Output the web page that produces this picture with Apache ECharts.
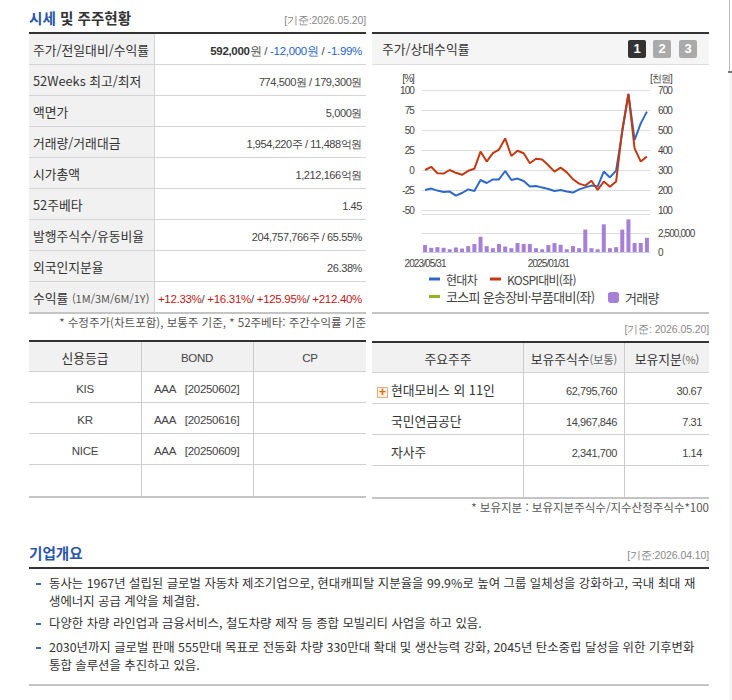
<!DOCTYPE html>
<html lang="ko"><head><meta charset="utf-8">
<script src="https://cdn.jsdelivr.net/npm/echarts@6/dist/echarts.min.js"></script>
<style>
html,body{margin:0;padding:0;background:#fff;width:732px;height:700px;overflow:hidden}
body{position:relative;font-family:"Noto Sans CJK KR","Noto Sans",sans-serif;color:#333}
.a{position:absolute;white-space:nowrap;line-height:1}
.num{font-family:"Liberation Sans",sans-serif;font-size:11px;letter-spacing:-.4px;color:#444}
.big{font-size:11.5px;letter-spacing:-.3px}
.lab{font-size:12.8px;color:#333}
.date{font-family:"Liberation Sans",sans-serif;font-size:10.5px;color:#888;letter-spacing:-.1px}
.blue{color:#1f63c4}.red{color:#c01818}
#c{position:absolute;left:372px;top:66px;width:337px;height:246px}
#c text[style*="Liberation"]{letter-spacing:-.9px}
#c text[style*="Noto"]{letter-spacing:-.7px}
</style></head><body>
<div id="page"></div>
<div id="c"></div>
<script>
const categories=["2023/05/31","2023/06/30","2023/07/31","2023/08/31","2023/09/30","2023/10/31","2023/11/30","2023/12/31","2024/01/31","2024/02/29","2024/03/31","2024/04/30","2024/05/31","2024/06/30","2024/07/31","2024/08/31","2024/09/30","2024/10/31","2024/11/30","2024/12/31","2025/01/31","2025/02/28","2025/03/31","2025/04/30","2025/05/31","2025/06/30","2025/07/31","2025/08/31","2025/09/30","2025/10/31","2025/11/30","2025/12/31","2026/01/31","2026/02/28","2026/03/31","2026/04/30","2026/05/20"];
const hyundaiPrice=[200,207,197,190,192,172,185,203,195,250,235,253,253,295,250,257,245,217,220,212,205,195,200,193,187,203,213,222,217,292,263,297,492,680,450,533,592];
const kospiRelative=[0,4,-4,-4.5,0,-3.5,-6,-1,1.5,23,10.5,21,25.5,39.5,17.5,24,21,8.5,14,13,6,-2,3,-3,-11.5,-17,-19.5,-13.5,-25,-14.5,-21,-14.5,50,95,27,10.5,17];
const sectorRelative=[];
const volume=[910000,550000,640000,550000,360000,590000,450000,770000,1050000,2000000,770000,500000,1050000,730000,500000,1180000,1050000,1050000,500000,360000,910000,1180000,950000,360000,770000,500000,2950000,500000,360000,3640000,500000,640000,2950000,4300000,1180000,1180000,1860000];
const seriesNames=["현대차","KOSPI대비(좌)","코스피 운송장비·부품대비(좌)","거래량"];
const leftTicks=[-50,100,25], rightTicks=[100,700,100], volumeTicks=[0,5000000,2500000];

const infoRows=[
 ["주가/전일대비/수익률",'<b style="color:#333">592,000</b>원 / <span class="blue">-12,000원</span> / <span class="blue">-1.99%</span>','big'],
 ["52Weeks 최고/최저","774,500원 / 179,300원"],
 ["액면가","5,000원"],
 ["거래량/거래대금","1,954,220주 / 11,488억원"],
 ["시가총액","1,212,166억원"],
 ["52주베타","1.45"],
 ["발행주식수/유동비율","204,757,766주 / 65.55%"],
 ["외국인지분율","26.38%"],
 ['수익률 <span style="font-size:11px;color:#555">(1M/3M/6M/1Y)</span>','<span class="red">+12.33%</span>/ <span class="red">+16.31%</span>/ <span class="red">+125.95%</span>/ <span class="red">+212.40%</span>','big']
];
const creditRows=[["KIS","AAA   [20250602]"],["KR","AAA   [20250616]"],["NICE","AAA   [20250609]"]];
const holderRows=[["현대모비스 외 11인","62,795,760","30.67"],["국민연금공단","14,967,846","7.31"],["자사주","2,341,700","1.14"]];
const overview=[["동사는 1967년 설립된 글로벌 자동차 제조기업으로, 현대캐피탈 지분율을 99.9%로 높여 그룹 일체성을 강화하고, 국내 최대 재","생에너지 공급 계약을 체결함."],["다양한 차량 라인업과 금융서비스, 철도차량 제작 등 종합 모빌리티 사업을 하고 있음."],["2030년까지 글로벌 판매 555만대 목표로 전동화 차량 330만대 확대 및 생산능력 강화, 2045년 탄소중립 달성을 위한 기후변화","통합 솔루션을 추진하고 있음."]];

const P=document.getElementById('page');
function box(x,y,w,h,c){P.insertAdjacentHTML('beforeend',`<div style="position:absolute;left:${x}px;top:${y}px;width:${w}px;height:${h}px;background:${c}"></div>`)}
function txt(html,cy,o,cls,sty){const pos=o.l!==undefined?`left:${o.l}px;`:o.r!==undefined?`right:${732-o.r}px;`:`left:${o.c}px;transform:translateX(-50%);`;
 P.insertAdjacentHTML('beforeend',`<div class="a ${cls||''}" style="${pos}top:${cy+1}px;margin-top:-.5em;${sty||''}">${html}</div>`)}

// 오른쪽 가장자리
box(729,0,1,71,'#bbb');box(728,71,4,2,'#777');box(729,73,3,627,'#f5f5f5');

// 시세 및 주주현황
txt('<span style="color:#2b55a8">시세</span> 및 주주현황',17,{l:29},'','font-size:14.6px;font-weight:700;color:#333');
txt('[기준:2026.05.20]',19,{r:366},'date');
box(29,32,337,2,'#333');
infoRows.forEach((r,i)=>{const y=34+31*i;box(29,y,125,31,'#f1f1f1');box(154,y,1,31,'#d5d5d5');
 if(i<8)box(29,y+30,337,1,'#d5d5d5');
 txt(r[0],y+15,{l:33},'lab');txt(r[1],y+16.5,{r:362},'num '+(r[2]||''));});
box(29,312,337,2,'#c4c4c4');
txt('* 수정주가(차트포함), 보통주 기준, * 52주베타: 주간수익률 기준',322,{r:366},'','font-size:11.5px;color:#555');

// 차트 헤더
box(372,32,337,2,'#333');box(372,34,337,30,'#f5f5f5');box(372,64,337,1,'#ddd');
txt('주가/상대수익률',48,{l:382},'lab');
[["1",628,"#333"],["2",653,"#aaa"],["3",679,"#aaa"]].forEach(b=>{
 P.insertAdjacentHTML('beforeend',`<div style="position:absolute;left:${b[1]}px;top:40px;width:18px;height:18px;border-radius:2px;background:${b[2]};color:#fff;font:700 13px/18px 'Liberation Sans';text-align:center">${b[0]}</div>`)});
box(372,312,337,2,'#c4c4c4');
txt('[기준: 2026.05.20]',328,{r:709},'date');

// 신용등급
box(29,340,337,2,'#333');box(29,342,337,30,'#f1f1f1');
[372,403,434,465].forEach(y=>box(29,y-1,337,1,'#d0d0d0'));
box(29,496,337,2,'#c4c4c4');box(141,342,1,154,'#ccc');box(253,342,1,154,'#ccc');
txt('신용등급',357,{c:85},'lab');txt('BOND',357.5,{c:197},'num big');txt('CP',357.5,{c:310},'num big');
creditRows.forEach((r,i)=>{const cy=388.5+31*i;txt(r[0],cy,{c:85},'num big');txt(r[1].replace(/ {3}/,'&nbsp;&nbsp;&nbsp;'),cy,{l:154},'num big');});

// 주요주주
box(372,341,337,2,'#333');box(372,343,337,30,'#f1f1f1');
[373,404,435,466].forEach(y=>box(372,y-1,337,1,'#d0d0d0'));
box(372,497,337,2,'#c4c4c4');box(523,343,1,154,'#ccc');box(624,343,1,154,'#ccc');
txt('주요주주',358,{c:448},'lab');txt('보유주식수<span style="font-size:11px;color:#666">(보통)</span>',358,{c:574},'lab');txt('보유지분<span style="font-size:11px;color:#666">(%)</span>',358,{c:667},'lab');
P.insertAdjacentHTML('beforeend','<div style="position:absolute;left:377px;top:387px;width:11px;height:11px;box-sizing:border-box;border:1px solid #d9b48a;background:#fdf0df;color:#e8680f;font:700 12px/9px \'Liberation Sans\';text-align:center">+</div>');
holderRows.forEach((r,i)=>{const cy=389+31*i;txt(r[0],cy,{l:391},'lab');txt(r[1],cy+1,{r:617},'num');txt(r[2],cy+1,{r:702},'num');});
txt('* 보유지분 : 보유지분주식수/지수산정주식수*100',507,{r:709},'','font-size:11.5px;color:#555');

// 기업개요
txt('기업개요',552,{l:29},'','font-size:14.6px;font-weight:700;color:#2b55a8');
txt('[기준:2026.04.10]',554,{r:709},'date');
box(29,567,680,2,'#333');
const ys=[[582,600],[622],[646,664]];
overview.forEach((p,i)=>{box(36,ys[i][0]+1,5,2,'#3a6ea5');p.forEach((t,j)=>txt(t,ys[i][j],{l:49},'','font-size:12.4px;color:#333'));});
box(29,684,680,2,'#c4c4c4');

const NUM="'Liberation Sans',sans-serif", AX='#444', KR="'Noto Sans CJK KR',sans-serif";
const grids=[{left:50,top:24,width:228,height:120},{left:50,top:148,width:228,height:38}];
const gridLine={show:true,lineStyle:{color:'#ddd',width:1}};
const legendText={fontFamily:KR,fontSize:12,color:'#444',padding:[0,0,0,1]};
const legendTextLarge={fontFamily:KR,fontSize:13,color:'#444',padding:[0,0,0,1]};
const chart=echarts.init(document.getElementById('c'),null,{renderer:'svg'});
chart.setOption({
 animation:false,
 grid:grids,
 xAxis:[
  {gridIndex:0,type:'category',data:categories,show:false},
  {gridIndex:1,type:'category',data:categories,axisLine:{lineStyle:{color:'#c8cfe0'}},
   axisTick:{length:4,lineStyle:{color:'#c8cfe0'},interval:i=>i===0||i===1||i===21},
   axisLabel:{interval:i=>i===0||i===20,fontFamily:NUM,fontSize:10,color:AX,margin:6,hideOverlap:false}}
 ],
 yAxis:[
  {gridIndex:0,type:'value',min:leftTicks[0],max:leftTicks[1],interval:leftTicks[2],position:'left',splitLine:gridLine,axisLine:{show:false},axisTick:{show:false},
   axisLabel:{fontFamily:NUM,fontSize:10,color:AX,margin:8},name:'[%]',nameLocation:'end',nameGap:7,nameTextStyle:{fontFamily:NUM,fontSize:10,color:AX,align:'right',padding:[0,8,0,0]}},
  {gridIndex:0,type:'value',min:rightTicks[0],max:rightTicks[1],interval:rightTicks[2],position:'right',splitLine:{show:false},axisLine:{show:false},axisTick:{show:false},
   axisLabel:{fontFamily:NUM,fontSize:10,color:AX,margin:8},name:'[천원]',nameLocation:'end',nameGap:7,nameTextStyle:{fontFamily:NUM,fontSize:10,color:AX,align:'left',padding:[0,0,0,0]}},
  {gridIndex:1,type:'value',min:volumeTicks[0],max:volumeTicks[1],interval:volumeTicks[2],position:'right',splitLine:gridLine,axisLine:{show:false},axisTick:{show:false},
   axisLabel:{fontFamily:NUM,fontSize:10,color:AX,margin:8,formatter:v=>v===volumeTicks[1]?'':v.toLocaleString('en-US')}}
 ],
 legend:[
  {left:57,top:207,itemWidth:11,itemHeight:3,icon:'rect',data:[seriesNames[0]],textStyle:legendText,padding:0},
  {left:118,top:207,itemWidth:11,itemHeight:3,icon:'rect',data:[seriesNames[1]],textStyle:legendText,padding:0},
  {left:57,top:224,itemWidth:11,itemHeight:3,icon:'rect',data:[seriesNames[2]],textStyle:legendTextLarge,padding:0},
  {left:236,top:225,itemWidth:11,itemHeight:11,icon:'roundRect',data:[seriesNames[3]],textStyle:legendTextLarge,padding:0}
 ],
 series:[
  {name:seriesNames[3],type:'bar',xAxisIndex:1,yAxisIndex:2,data:volume,barWidth:4,itemStyle:{color:'#a67fd6'}},
  {name:seriesNames[2],type:'line',xAxisIndex:0,yAxisIndex:0,data:sectorRelative,showSymbol:false,itemStyle:{color:'#8fb61f'},lineStyle:{color:'#8fb61f',width:2}},
  {name:seriesNames[0],type:'line',xAxisIndex:0,yAxisIndex:1,data:hyundaiPrice,showSymbol:false,itemStyle:{color:'#2f69c8'},lineStyle:{color:'#2f69c8',width:2}},
  {name:seriesNames[1],type:'line',xAxisIndex:0,yAxisIndex:0,data:kospiRelative,showSymbol:false,itemStyle:{color:'#c23a12'},lineStyle:{color:'#c23a12',width:2}}
 ]
});
</script></body></html>
